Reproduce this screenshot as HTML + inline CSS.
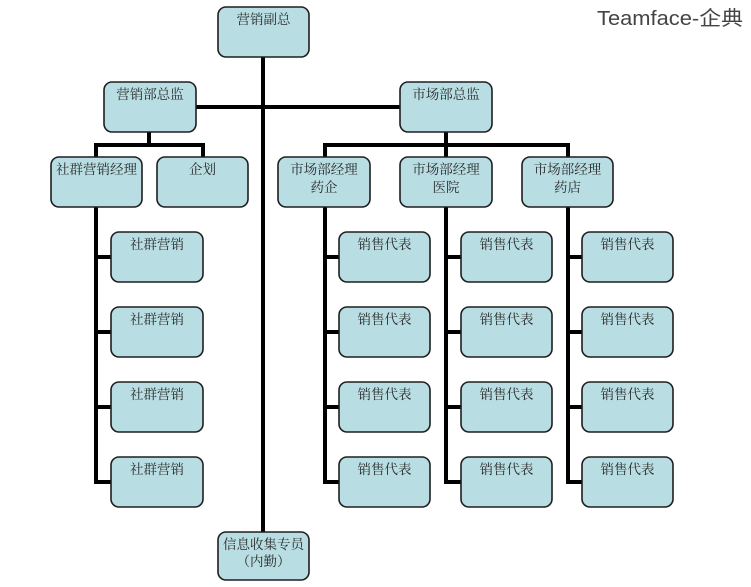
<!DOCTYPE html>
<html><head><meta charset="utf-8"><style>
html,body{margin:0;padding:0;background:#fff;}
svg{display:block;}
.b{fill:#b8dde2;stroke:#1e1e1e;stroke-width:1.6;}
.t{font-family:"Liberation Serif","Noto Serif CJK SC",serif;font-size:13.5px;fill:#2a2a2a;text-anchor:middle;}
.l{stroke:#000;stroke-width:4;fill:none;stroke-linecap:butt;}
</style></head><body>
<svg width="751" height="587" viewBox="0 0 751 587" xmlns="http://www.w3.org/2000/svg">
<rect width="751" height="587" fill="#fff"/>
<text x="597" y="25" font-family="Liberation Sans,'Noto Sans CJK SC',sans-serif" font-size="20" fill="#444" textLength="146" lengthAdjust="spacingAndGlyphs">Teamface-企典</text>

<!-- lines -->
<path class="l" d="M263 57 V532"/>
<path class="l" d="M196 107 H400"/>
<path class="l" d="M149 132 V145 M94 145 H205 M96 145 V157 M203 145 V157"/>
<path class="l" d="M446 132 V157 M323 145 H570 M325 145 V157 M568 145 V157"/>
<path class="l" d="M96 207 V484 M96 257 H111 M96 332 H111 M96 407 H111 M96 482 H111"/>
<path class="l" d="M325 207 V484 M325 257 H339 M325 332 H339 M325 407 H339 M325 482 H339"/>
<path class="l" d="M446 207 V484 M446 257 H461 M446 332 H461 M446 407 H461 M446 482 H461"/>
<path class="l" d="M568 207 V484 M568 257 H582 M568 332 H582 M568 407 H582 M568 482 H582"/>

<!-- top -->
<rect class="b" x="218" y="7" width="91" height="50" rx="8"/>
<text class="t" x="263.5" y="24">营销副总</text>

<rect class="b" x="104" y="82" width="92" height="50" rx="8"/>
<text class="t" x="150" y="99">营销部总监</text>
<rect class="b" x="400" y="82" width="92" height="50" rx="8"/>
<text class="t" x="446" y="99">市场部总监</text>

<rect class="b" x="51" y="157" width="91" height="50" rx="8"/>
<text class="t" x="96.5" y="174">社群营销经理</text>
<rect class="b" x="157" y="157" width="91" height="50" rx="8"/>
<text class="t" x="202.5" y="174">企划</text>

<rect class="b" x="278" y="157" width="92" height="50" rx="8"/>
<text class="t" x="324" y="174">市场部经理</text>
<text class="t" x="324" y="192">药企</text>
<rect class="b" x="400" y="157" width="92" height="50" rx="8"/>
<text class="t" x="446" y="174">市场部经理</text>
<text class="t" x="446" y="192">医院</text>
<rect class="b" x="522" y="157" width="91" height="50" rx="8"/>
<text class="t" x="567.5" y="174">市场部经理</text>
<text class="t" x="567.5" y="192">药店</text>

<!-- 社群营销 column -->
<rect class="b" x="111" y="232" width="92" height="50" rx="8"/><text class="t" x="157" y="249">社群营销</text>
<rect class="b" x="111" y="307" width="92" height="50" rx="8"/><text class="t" x="157" y="324">社群营销</text>
<rect class="b" x="111" y="382" width="92" height="50" rx="8"/><text class="t" x="157" y="399">社群营销</text>
<rect class="b" x="111" y="457" width="92" height="50" rx="8"/><text class="t" x="157" y="474">社群营销</text>

<!-- sales col1 -->
<rect class="b" x="339" y="232" width="91" height="50" rx="8"/><text class="t" x="384.5" y="249">销售代表</text>
<rect class="b" x="339" y="307" width="91" height="50" rx="8"/><text class="t" x="384.5" y="324">销售代表</text>
<rect class="b" x="339" y="382" width="91" height="50" rx="8"/><text class="t" x="384.5" y="399">销售代表</text>
<rect class="b" x="339" y="457" width="91" height="50" rx="8"/><text class="t" x="384.5" y="474">销售代表</text>

<!-- sales col2 -->
<rect class="b" x="461" y="232" width="91" height="50" rx="8"/><text class="t" x="506.5" y="249">销售代表</text>
<rect class="b" x="461" y="307" width="91" height="50" rx="8"/><text class="t" x="506.5" y="324">销售代表</text>
<rect class="b" x="461" y="382" width="91" height="50" rx="8"/><text class="t" x="506.5" y="399">销售代表</text>
<rect class="b" x="461" y="457" width="91" height="50" rx="8"/><text class="t" x="506.5" y="474">销售代表</text>

<!-- sales col3 -->
<rect class="b" x="582" y="232" width="91" height="50" rx="8"/><text class="t" x="627.5" y="249">销售代表</text>
<rect class="b" x="582" y="307" width="91" height="50" rx="8"/><text class="t" x="627.5" y="324">销售代表</text>
<rect class="b" x="582" y="382" width="91" height="50" rx="8"/><text class="t" x="627.5" y="399">销售代表</text>
<rect class="b" x="582" y="457" width="91" height="50" rx="8"/><text class="t" x="627.5" y="474">销售代表</text>

<!-- info -->
<rect class="b" x="218" y="532" width="91" height="48" rx="8"/>
<text class="t" x="263.5" y="549">信息收集专员</text>
<text class="t" x="263.5" y="566">（内勤）</text>
</svg>
</body></html>
